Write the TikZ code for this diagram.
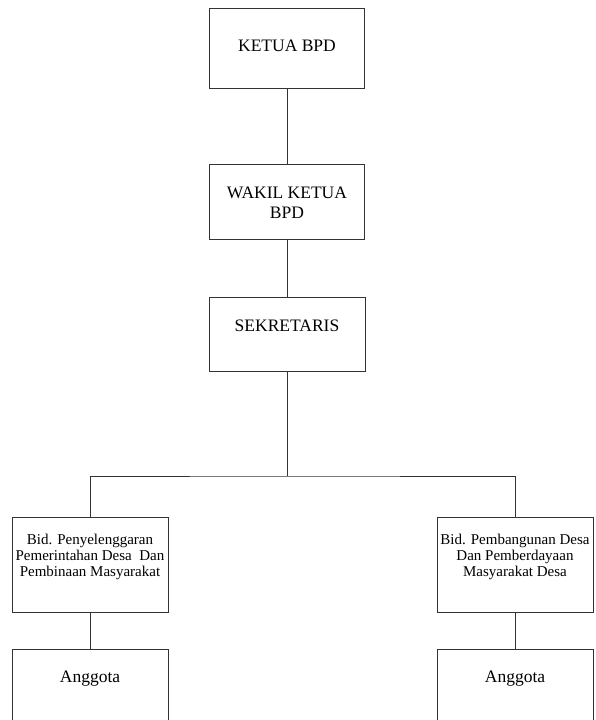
\documentclass[tikz,border=0pt]{standalone}
\usepackage{fontspec}
\setmainfont{Liberation Serif}
\begin{document}
\begin{tikzpicture}[x=1pt,y=-1pt,
  box/.style={draw=black!80,line width=0.9pt,rectangle,inner sep=0pt},
  big/.style={font=\fontsize{17.5}{20}\selectfont,align=center,inner sep=0pt},
  small/.style={font=\fontsize{15}{16.3}\selectfont,align=center,inner sep=0pt},
  conn/.style={draw=black!80,line width=0.9pt}]
\clip (0,0) rectangle (595,720);
\useasboundingbox (0,0) rectangle (595,720);
% boxes
\node[box,minimum width=155pt,minimum height=80pt] (k) at (287,48) {};
\node[box,minimum width=155pt,minimum height=75pt] (w) at (287,201.5) {};
\node[box,minimum width=156pt,minimum height=74pt] (s) at (287,334) {};
\node[box,minimum width=156pt,minimum height=95pt] (L) at (90,564.5) {};
\node[box,minimum width=156pt,minimum height=95pt] (R) at (515,564.5) {};
\node[box,minimum width=156pt,minimum height=90pt] (LA) at (90,694) {};
\node[box,minimum width=156pt,minimum height=90pt] (RA) at (515,694) {};
% texts
\node[big] (tk) at (287,46) {KETUA BPD};
\node[big] (tw) at (287,203) {WAKIL KETUA\\BPD};
\node[big] (ts) at (287,326) {SEKRETARIS};
\node[small] (tL) at (90,557) {Bid. Penyelenggaran\\Pemerintahan Desa\ \ Dan\\Pembinaan Masyarakat};
\node[small] (tR) at (515,557) {Bid. Pembangunan Desa\\Dan Pemberdayaan\\Masyarakat Desa};
\node[big] (tLA) at (90,679) {Anggota};
\node[big] (tRA) at (515,679) {Anggota};
% connectors
\coordinate (j) at (287,476);
\draw[conn] (k.south) -- (w.north);
\draw[conn] (w.south) -- (s.north);
\draw[conn] (s.south) -- (j);
\draw[conn] (L.north) |- (j) -| (R.north);
\draw[conn] (L.south) -- (LA.north);
\draw[conn] (R.south) -- (RA.north);
\end{tikzpicture}
\end{document}
